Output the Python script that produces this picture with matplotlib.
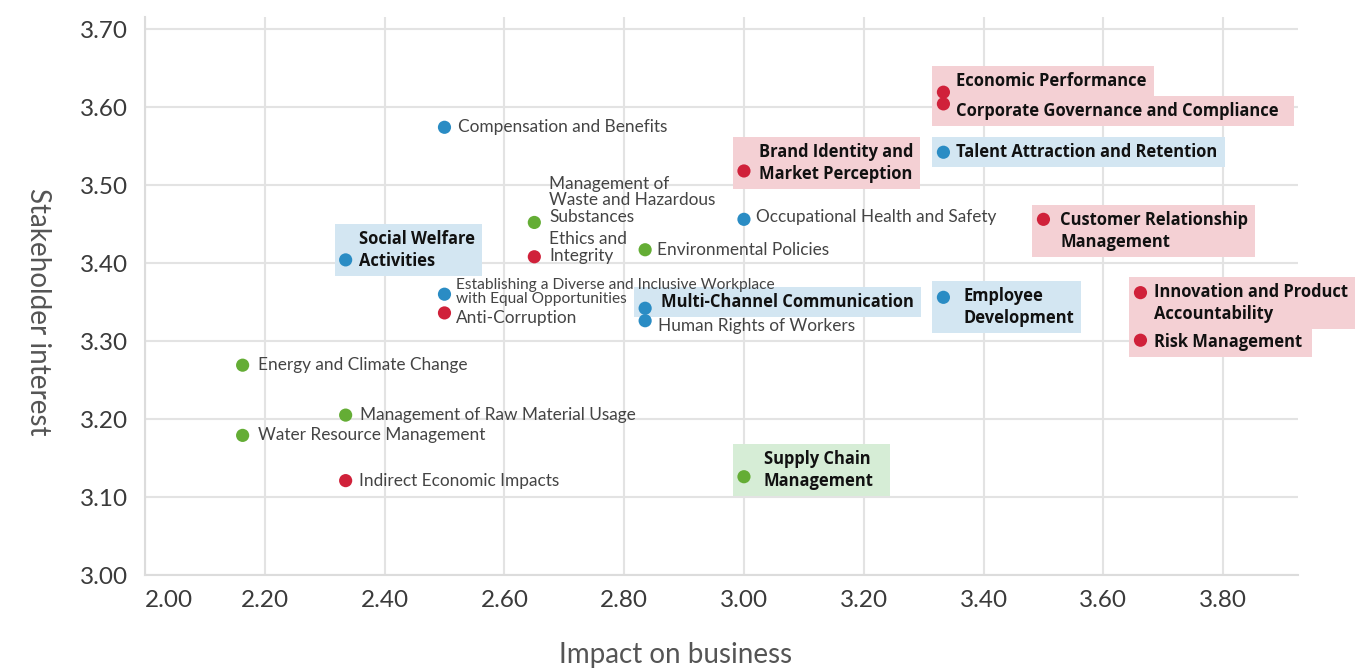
import numpy as np
import matplotlib
matplotlib.use('Agg')
import matplotlib.pyplot as plt
from matplotlib.patches import Rectangle

# Data
topics = ['Compensation and Benefits',
          'Management of\nWaste and Hazardous\nSubstances',
          'Ethics and\nIntegrity',
          'Environmental Policies',
          'Occupational Health and Safety',
          'Brand Identity and\nMarket Perception',
          'Economic Performance',
          'Corporate Governance and Compliance',
          'Talent Attraction and Retention',
          'Customer Relationship\nManagement',
          'Social Welfare\nActivities',
          'Establishing a Diverse and Inclusive Workplace\nwith Equal Opportunities',
          'Anti-Corruption',
          'Multi-Channel Communication',
          'Human Rights of Workers',
          'Employee\nDevelopment',
          'Innovation and Product\nAccountability',
          'Risk Management',
          'Energy and Climate Change',
          'Management of Raw Material Usage',
          'Water Resource Management',
          'Indirect Economic Impacts',
          'Supply Chain\nManagement']
impact = [2.50, 2.65, 2.65, 2.835, 3.00, 3.00, 3.333, 3.333, 3.333, 3.50,
          2.335, 2.50, 2.50, 2.835, 2.835, 3.333, 3.662, 3.662, 2.163,
          2.335, 2.163, 2.335, 3.00]
interest = [3.574, 3.452, 3.408, 3.417, 3.456, 3.518, 3.619, 3.604, 3.542,
            3.456, 3.404, 3.360, 3.336, 3.342, 3.326, 3.356, 3.362, 3.301,
            3.269, 3.205, 3.179, 3.121, 3.126]
group = ['s', 'e', 'g', 'e', 's', 'g', 'g', 'g', 's', 'g', 's', 's', 'g',
         's', 's', 's', 'g', 'g', 'e', 'e', 'e', 'g', 'e']
material = [0, 0, 0, 0, 0, 1, 1, 1, 1, 1, 1, 0, 0, 1, 0, 1, 1, 1, 0, 0, 0,
            0, 1]

# label offsets in pixels (dx, dy) from the dot, extra box width on the right
offsets = [(14, 0), (15, 22), (15, 9), (12, 0), (12, 2), (15, 8), (13, 11),
           (13, -7), (13, 0), (17, -12), (13, 10), (12, 2), (11, -5),
           (16, 6), (13, -5), (20, -10), (14, -10), (14, -2), (15, 0),
           (14, 0), (15, 0), (13, 0), (20, 7)]
box_extra = [0, 0, 0, 0, 0, 0, 0, 8, 0, 0, 0, 0, 0, 0, 0, 0, 0, 2, 0, 0,
             0, 0, 9]

colors = {'g': '#d0213a', 's': '#2a8cc4', 'e': '#64ad35'}
fills = {'g': '#f4d0d4', 's': '#d3e6f2', 'e': '#d6edd6'}

W, H = 1355, 668
fig = plt.figure(figsize=(W / 100, H / 100), dpi=100)
ax = fig.add_axes([145 / W, 1 - 575 / H, (1298 - 145) / W, (575 - 17) / H])
ax.set_xlim(2.0, 3.925)
ax.set_ylim(3.0, 3.7154)

xt = np.arange(2.0, 3.81, 0.2)
yt = np.arange(3.0, 3.71, 0.1)
ax.set_xticks(xt)
ax.set_yticks(yt)
ax.set_xticklabels(['%.2f' % v for v in xt], fontfamily='Lato',
                   fontsize=17.5, color='#3a3a3a')
ax.set_yticklabels(['%.2f' % v for v in yt], fontfamily='Lato',
                   fontsize=17.5, color='#3a3a3a')
ax.get_xticklabels()[0].set_ha('left')
ax.tick_params(length=0, pad=11)
ax.tick_params(axis='y', pad=12)
ax.grid(True, color='#e3e3e3', linewidth=1.5)
ax.set_axisbelow(True)
for s in ['top', 'right']:
    ax.spines[s].set_visible(False)
for s in ['left', 'bottom']:
    ax.spines[s].set_color('#dcdcdc')
    ax.spines[s].set_linewidth(1.5)

ax.scatter(impact, interest, s=90, c=[colors[g] for g in group],
           zorder=3, linewidths=0, clip_on=False)

texts = []
for i, name in enumerate(topics):
    dx, dy = offsets[i]
    if material[i]:
        t = ax.annotate(name, (impact[i], interest[i]), xytext=(dx, dy),
                        textcoords='offset pixels', ha='left', va='center',
                        fontfamily='Open Sans', fontweight='bold',
                        fontsize=11.9, color='#111111', linespacing=1.28,
                        zorder=4, annotation_clip=False)
    else:
        fs = 11.2 if name.startswith('Establishing') else 12.4
        t = ax.annotate(name, (impact[i], interest[i]), xytext=(dx, dy),
                        textcoords='offset pixels', ha='left', va='center',
                        fontfamily='Lato', fontsize=fs, color='#444444',
                        linespacing=1.05, zorder=4, annotation_clip=False)
    texts.append(t)

fig.canvas.draw()
r = fig.canvas.get_renderer()
inv = ax.transData.inverted()
for i, t in enumerate(texts):
    if not material[i]:
        continue
    bb = t.get_window_extent(r)
    px, py = ax.transData.transform((impact[i], interest[i]))
    x0, y0 = inv.transform((px - 11, bb.y0 - 6))
    x1, y1 = inv.transform((bb.x1 + 7 + box_extra[i], bb.y1 + 6))
    ax.add_patch(Rectangle((x0, y0), x1 - x0, y1 - y0, facecolor=fills[group[i]],
                           edgecolor='none', zorder=1.5, clip_on=False))

fig.text(38 / W, 1 - 312 / H, 'Stakeholder interest', rotation=-90,
         ha='center', va='center', fontfamily='Lato', fontsize=20,
         color='#555555')
fig.text(676 / W, 1 - 655 / H, 'Impact on business', ha='center',
         va='center', fontfamily='Lato', fontsize=20, color='#555555')

plt.savefig('out.png', dpi=100)
